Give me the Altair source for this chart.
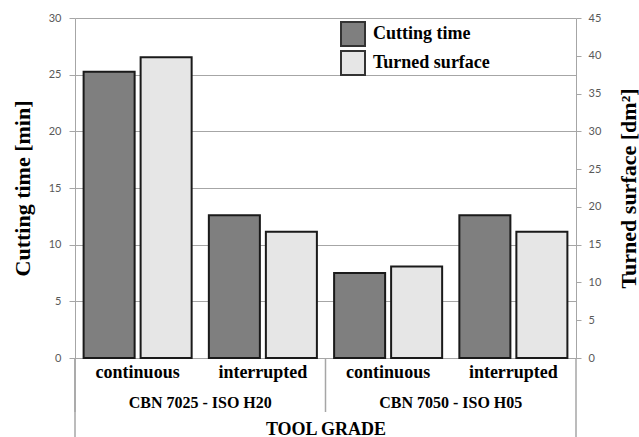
import altair as alt
import pandas as pd

# Turning tests: cutting time (left axis) and turned surface (right axis)
grades = ["CBN 7025 - ISO H20", "CBN 7025 - ISO H20", "CBN 7050 - ISO H05", "CBN 7050 - ISO H05"]
modes = ["continuous", "interrupted", "continuous", "interrupted"]
cutting_time = [25.25, 12.6, 7.5, 12.6]      # min
turned_surface = [39.8, 16.7, 12.1, 16.7]    # dm²
series = ["Cutting time", "Turned surface"]
group_labels = ["CBN 7025 - ISO H20", "CBN 7050 - ISO H05"]
time_ticks = [0, 5, 10, 15, 20, 25, 30]
surface_ticks = [0, 5, 10, 15, 20, 25, 30, 35, 40, 45]

keys = [f"{g}|{m}" for g, m in zip(grades, modes)]

time_df = pd.DataFrame({"key": keys, "series": series[0], "value": cutting_time})
surf_df = pd.DataFrame({"key": keys, "series": series[1], "value": turned_surface})
group_df = pd.DataFrame({"key": [keys[0], keys[2]], "label": group_labels})
left_edge = pd.DataFrame({"key": [keys[0], keys[2]]})
right_edge = pd.DataFrame({"key": [keys[3]]})

SERIF = "Liberation Serif"
SANS = "Lato"
GRID = "#a6a6a6"
W, H = 501, 340

x_axis = alt.Axis(
    title="TOOL GRADE",
    labelExpr="split(datum.label, '|')[1]",
    labelFont=SERIF, labelFontSize=18, labelFontWeight="bold", labelColor="black",
    labelBaseline="alphabetic", labelPadding=19, labelAngle=0,
    ticks=False, domainColor=GRID, grid=False,
    titleFont=SERIF, titleFontSize=18, titleFontWeight="bold", titleColor="black",
    titleBaseline="alphabetic", titleY=76,
)
x_scale = alt.Scale(domain=keys, paddingInner=0, paddingOuter=0)


def x_enc(band=0.5):
    return alt.X("key:N", scale=x_scale, axis=x_axis, bandPosition=band)


xoff = alt.XOffset("series:N", scale=alt.Scale(domain=series, paddingInner=0.105, paddingOuter=0.151))
color = alt.Color(
    "series:N",
    scale=alt.Scale(domain=series, range=["#7f7f7f", "#e6e6e6"]),
    legend=alt.Legend(
        title=None, orient="none", legendX=265, legendY=3,
        symbolType="square", symbolSize=576, symbolStrokeColor="#333333",
        symbolStrokeWidth=2, symbolOpacity=1,
        labelFont=SERIF, labelFontSize=18, labelFontWeight="bold", labelColor="black",
        labelOffset=7, rowPadding=-4,
    ),
)

tick_style = dict(
    labelFont=SANS, labelFontSize=11, labelColor="#595959",
    domainColor=GRID, tickColor=GRID,
    titleFont=SERIF, titleFontSize=22, titleFontWeight="bold", titleColor="black",
    titleAngle=270, titleAlign="center", titleBaseline="middle", titleY=170,
)

bars_time = alt.Chart(time_df).mark_bar(stroke="#1a1a1a", strokeWidth=2).encode(
    x=x_enc(),
    xOffset=xoff,
    y=alt.Y("value:Q", scale=alt.Scale(domain=[0, 30], nice=False),
            axis=alt.Axis(title="Cutting time [min]", values=time_ticks, grid=True,
                          gridColor=GRID, tickSize=6, labelPadding=8, titleX=-53,
                          **tick_style)),
    color=color,
)

bars_surface = alt.Chart(surf_df).mark_bar(stroke="#1a1a1a", strokeWidth=2).encode(
    x=x_enc(),
    xOffset=xoff,
    y=alt.Y("value:Q", scale=alt.Scale(domain=[0, 45], nice=False),
            axis=alt.Axis(title="Turned surface [dm²]", orient="right", values=surface_ticks,
                          grid=False, tickSize=5, labelPadding=7, titleX=52,
                          **tick_style)),
    color=color,
)

group_text = alt.Chart(group_df).mark_text(
    font=SERIF, fontSize=16, fontWeight="bold", baseline="alphabetic", align="center", color="black"
).encode(x=x_enc(1), y=alt.value(390), text="label:N")

# Vertical separators of the two-level category axis
sep_left = alt.Chart(left_edge).mark_rule(color=GRID, strokeWidth=1.5).encode(
    x=x_enc(0), y=alt.value(H), y2=alt.value(394)
)
sep_right = alt.Chart(right_edge).mark_rule(color=GRID, strokeWidth=1.5).encode(
    x=x_enc(1), y=alt.value(H), y2=alt.value(419)
)
outer_left = alt.Chart(pd.DataFrame({"key": [keys[0]]})).mark_rule(color=GRID, strokeWidth=1.5).encode(
    x=x_enc(0), y=alt.value(H), y2=alt.value(419)
)

chart = (
    alt.layer(bars_time, bars_surface, group_text, sep_left, outer_left, sep_right)
    .resolve_scale(y="independent")
    .properties(
        width=W, height=H,
        autosize=alt.AutoSizeParams(type="none"),
        padding={"left": 75, "top": 18, "right": 63, "bottom": 79},
        background="white",
    )
    .configure_view(stroke=None)
)

chart.save("out.html", embed_options={"renderer": "svg", "actions": False})
